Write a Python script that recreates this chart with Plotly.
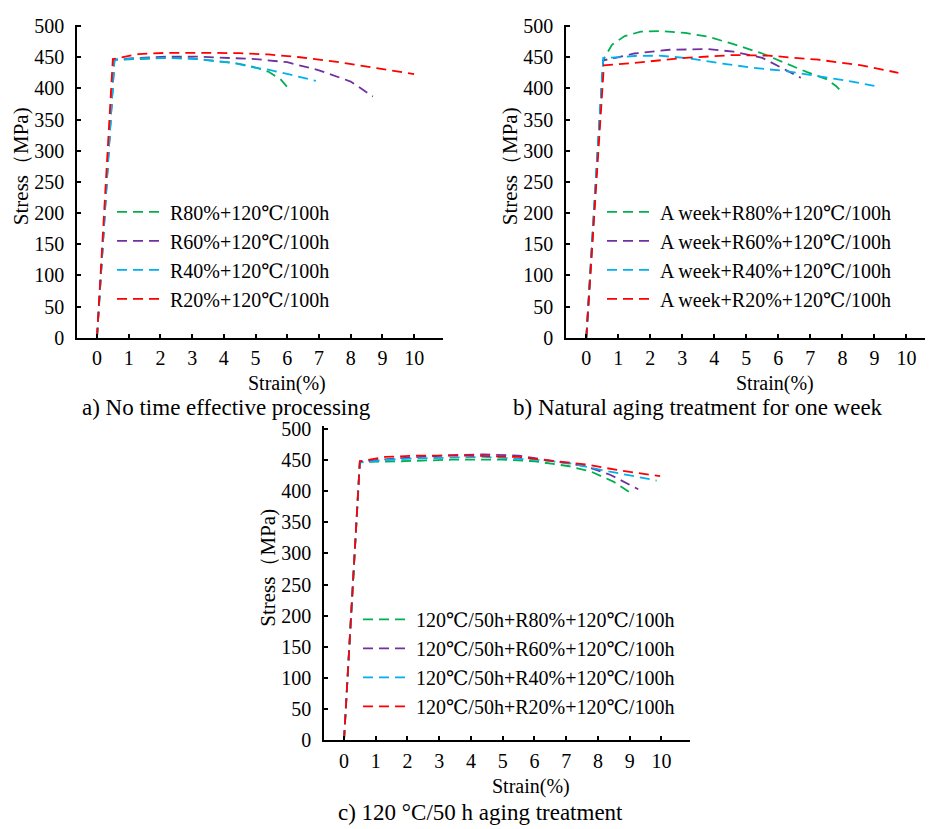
import plotly.graph_objects as go

W, H = 933, 829

# ---------------- data ----------------
labels_a = ["R80%+120℃/100h", "R60%+120℃/100h", "R40%+120℃/100h", "R20%+120℃/100h"]
labels_b = ["A week+R80%+120℃/100h", "A week+R60%+120℃/100h",
            "A week+R40%+120℃/100h", "A week+R20%+120℃/100h"]
labels_c = ["120℃/50h+R80%+120℃/100h", "120℃/50h+R60%+120℃/100h",
            "120℃/50h+R40%+120℃/100h", "120℃/50h+R20%+120℃/100h"]

# panel a
a_r80_x = [0, 0.55, 1.3, 2.2, 3.0, 3.8, 4.4, 4.9, 5.4, 5.8, 6.1]
a_r80_y = [0, 446, 447, 449, 448, 444, 440, 435, 427, 414, 396]
a_r60_x = [0, 0.55, 1.3, 2.2, 3.2, 4.3, 5.0, 6.0, 7.0, 8.0, 8.7]
a_r60_y = [0, 446, 449, 451, 451, 449, 447, 442, 429, 411, 387]
a_r40_x = [0, 0.55, 1.3, 2.2, 3.2, 4.3, 4.9, 5.4, 6.1, 6.9]
a_r40_y = [0, 446, 448, 449, 447, 441, 434, 430, 422, 412]
a_r20_x = [0, 0.5, 1.3, 2.2, 3.5, 4.5, 5.4, 6.4, 7.5, 8.9, 10.0]
a_r20_y = [0, 447, 455, 457, 457, 456.5, 454.5, 450, 443, 432, 423]

# panel b
b_r80_x = [0, 0.53, 0.8, 1.2, 1.7, 2.3, 3.1, 3.8, 4.6, 5.5, 6.2, 6.9, 7.5, 7.8, 8.0]
b_r80_y = [0, 446, 470, 484, 491, 492, 489, 483, 471, 456, 441, 426, 415, 404, 393]
b_r60_x = [0, 0.53, 1.0, 1.5, 2.6, 3.8, 4.6, 5.5, 6.1, 6.7]
b_r60_y = [0, 445, 450, 456, 462, 463, 459, 449, 433, 417]
b_r40_x = [0, 0.53, 1.0, 1.5, 2.25, 3.1, 4.1, 5.2, 6.2, 7.25, 8.3, 9.0]
b_r40_y = [0, 449, 450, 452, 452.5, 449, 441, 433, 428, 420, 411, 404]
b_r20_x = [0, 0.55, 1.5, 3.1, 4.6, 5.7, 7.25, 8.6, 9.75]
b_r20_y = [0, 437, 441, 449, 453.5, 452.5, 446, 437, 425]

# panel c
c_r80_x = [0, 0.5, 1.8, 3.4, 5.0, 6.0, 7.1, 7.8, 8.5, 9.06]
c_r80_y = [0, 447, 448, 450.5, 450.5, 448, 440, 431, 415, 396]
c_r60_x = [0, 0.5, 1.8, 3.4, 4.4, 5.5, 6.5, 7.6, 8.4, 9.27]
c_r60_y = [0, 448, 453, 458, 459, 457, 449, 440, 426, 403]
c_r40_x = [0, 0.5, 1.3, 2.3, 4.4, 6.0, 7.1, 8.1, 9.85]
c_r40_y = [0, 446, 450, 452.6, 455, 450.6, 445, 434, 417]
c_r20_x = [0, 0.5, 1.3, 2.3, 3.9, 5.5, 6.5, 7.6, 8.6, 9.96]
c_r20_y = [0, 448, 455, 457, 457, 455, 449, 443, 434, 424]

x_ticks = [0, 1, 2, 3, 4, 5, 6, 7, 8, 9, 10]
y_ticks = [0, 50, 100, 150, 200, 250, 300, 350, 400, 450, 500]

captions = ["a) No time effective processing",
            "b) Natural aging treatment for one week",
            "c) 120 °C/50 h aging treatment"]
x_title = "Strain(%)"
y_title = "Stress（MPa)"

# ---------------- style ----------------
colors = ["#00B050", "#7030A0", "#00B0F0", "#FF0000"]
FONT = "Liberation Serif, Times New Roman, Times, DejaVu Serif, serif"
DASH = "10px,6px"
LW = 1.8

def px2fx(p):
    return p / W

def py2fy(p):
    return 1 - p / H

fig = go.Figure()

panels = [
    ("x", "y", "legend", labels_a,
     [(a_r80_x, a_r80_y), (a_r60_x, a_r60_y), (a_r40_x, a_r40_y), (a_r20_x, a_r20_y)]),
    ("x2", "y2", "legend2", labels_b,
     [(b_r80_x, b_r80_y), (b_r60_x, b_r60_y), (b_r40_x, b_r40_y), (b_r20_x, b_r20_y)]),
    ("x3", "y3", "legend3", labels_c,
     [(c_r80_x, c_r80_y), (c_r60_x, c_r60_y), (c_r40_x, c_r40_y), (c_r20_x, c_r20_y)]),
]

for xa, ya, lg, labs, series in panels:
    for (sx, sy), lab, col in zip(series, labs, colors):
        fig.add_trace(go.Scatter(
            x=sx, y=sy, mode="lines", name=lab, xaxis=xa, yaxis=ya, legend=lg,
            line=dict(color=col, width=LW, dash=DASH)))

def xaxis(domain, rng, anchor):
    return dict(domain=domain, range=rng, anchor=anchor, tickvals=x_ticks,
                showline=True, linecolor="black", linewidth=1.5,
                ticks="inside", ticklen=4, tickwidth=1.5, tickcolor="black",
                showgrid=False, zeroline=False, ticklabelstandoff=2,
                tickfont=dict(family=FONT, size=20, color="black"))

def yaxis(domain, rng, anchor):
    return dict(domain=domain, range=rng, anchor=anchor, tickvals=y_ticks,
                showline=True, linecolor="black", linewidth=1.5,
                ticks="inside", ticklen=4, tickwidth=1.5, tickcolor="black",
                showgrid=False, zeroline=False, ticklabelstandoff=7,
                tickfont=dict(family=FONT, size=20, color="black"))

ydom_ab = [py2fy(328), py2fy(7)]
ydom_c = [py2fy(741), py2fy(419)]

def legend(xp, yp):
    return dict(x=px2fx(xp), y=py2fy(yp), xanchor="left", yanchor="top",
                xref="paper", yref="paper", bgcolor="rgba(0,0,0,0)",
                font=dict(family=FONT, size=20, color="black"),
                itemwidth=48, tracegroupgap=0, traceorder="normal")

fig.update_layout(
    width=W, height=H,
    margin=dict(l=0, r=0, t=0, b=0),
    paper_bgcolor="white", plot_bgcolor="white",
    font=dict(family=FONT, color="black"),
    xaxis=xaxis([px2fx(69), px2fx(435)], [-0.63, 10.91], "y"),
    yaxis=yaxis(ydom_ab, [0, 502], "x"),
    xaxis2=xaxis([px2fx(558), px2fx(924)], [-0.635, 10.8], "y2"),
    yaxis2=yaxis(ydom_ab, [0, 502], "x2"),
    xaxis3=xaxis([px2fx(316), px2fx(682)], [-0.63, 10.9], "y3"),
    yaxis3=yaxis(ydom_c, [0, 504], "x3"),
    legend=legend(104, 179),
    legend2=legend(594, 179),
    legend3=legend(350, 597),
    showlegend=True,
)

def ann(text, xp, yp, size, angle=0):
    fig.add_annotation(text=text, x=px2fx(xp), y=py2fy(yp), xref="paper", yref="paper",
                       showarrow=False, xanchor="center", yanchor="middle",
                       textangle=angle, font=dict(family=FONT, size=size, color="black"))

# axis titles
ann(y_title, 13, 152, 21, -90)
ann(y_title, 502, 152, 21, -90)
ann(y_title, 260, 564, 21, -90)
ann(x_title, 279, 375, 20)
ann(x_title, 767, 375, 20)
ann(x_title, 523, 788, 20)
# captions
ann(captions[0], 218, 400, 23)
ann(captions[1], 690, 400, 23)
ann(captions[2], 473, 815, 23)

fig.write_html("out.html")
